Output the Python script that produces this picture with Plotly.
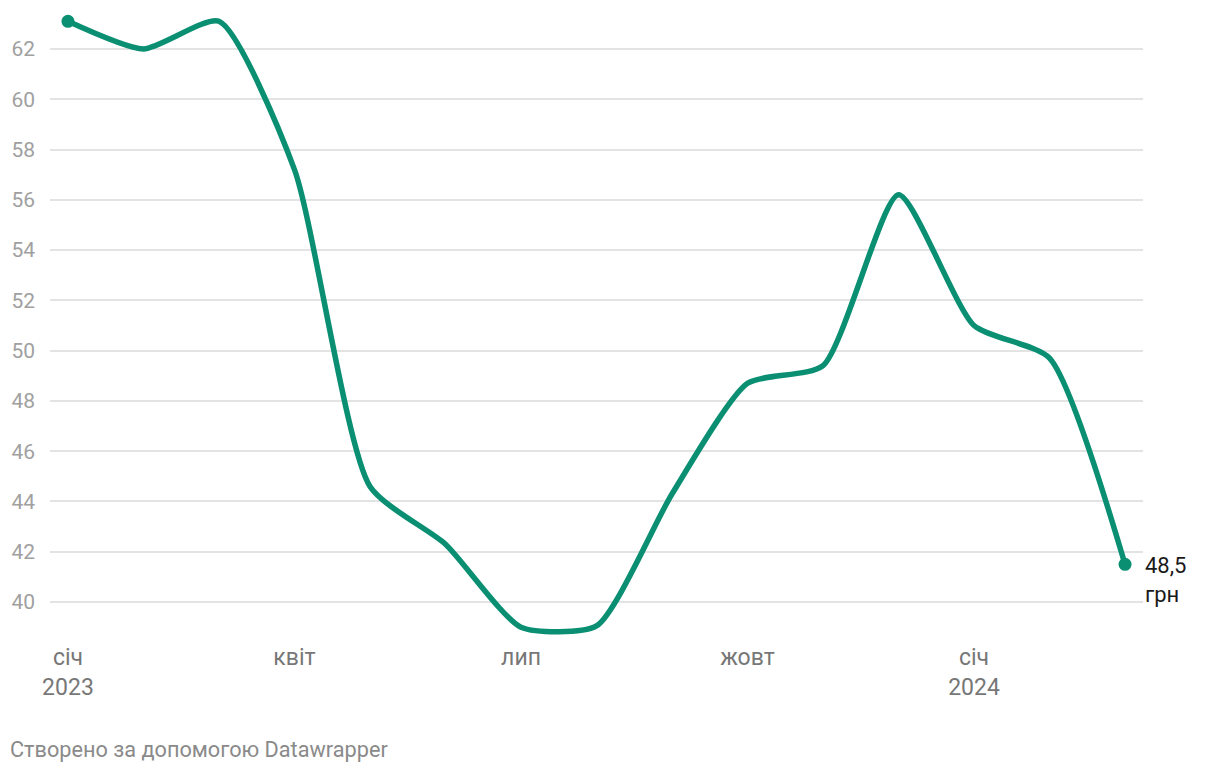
import plotly.graph_objects as go

months = ["2023-01", "2023-02", "2023-03", "2023-04", "2023-05", "2023-06", "2023-07",
          "2023-08", "2023-09", "2023-10", "2023-11", "2023-12", "2024-01", "2024-02", "2024-03"]
prices = [63.1, 62.0, 63.1, 57.2, 44.6, 42.3, 39.0, 39.05, 44.3, 48.7, 49.4, 56.2, 51.0, 49.7, 41.5]

tick_positions = [0, 3, 6, 9, 12]
tick_labels = ["січ<br>2023", "квіт", "лип", "жовт", "січ<br>2024"]
y_ticks = [40, 42, 44, 46, 48, 50, 52, 54, 56, 58, 60, 62]
end_label = "48,5<br>грн"

color = "#0a8f72"
x_idx = list(range(len(months)))

fig = go.Figure()
fig.add_trace(go.Scatter(
    x=x_idx, y=prices, mode="lines",
    line=dict(color=color, width=5.5, shape="spline", smoothing=0.6),
    hoverinfo="skip", showlegend=False,
))
fig.add_trace(go.Scatter(
    x=[x_idx[0], x_idx[-1]], y=[prices[0], prices[-1]], mode="markers",
    marker=dict(color=color, size=13),
    hoverinfo="skip", showlegend=False,
))

fig.add_annotation(
    x=x_idx[-1], y=prices[-1], xref="x", yref="y", text=end_label,
    showarrow=False, xanchor="left", yanchor="middle", align="left",
    xshift=18, yshift=-16,
    font=dict(family="Roboto", size=22, color="#1a1a1a"),
)

fig.add_annotation(
    x=0, y=0, xref="paper", yref="paper", xanchor="left", yanchor="bottom",
    text="Створено за допомогою Datawrapper", showarrow=False,
    xshift=-42, yshift=-124,
    font=dict(family="Roboto", size=21.7, color="#8a8a8a"),
)

fig.update_layout(
    width=1220, height=774,
    margin=dict(l=50, r=77, t=10, b=134),
    paper_bgcolor="white", plot_bgcolor="white",
    font=dict(family="Roboto"),
    xaxis=dict(
        range=[-0.238, 14.238], tickvals=tick_positions, ticktext=tick_labels,
        showgrid=False, zeroline=False, showline=False, ticks="",
        tickfont=dict(family="Roboto", size=23, color="#777777"),
        ticklabelstandoff=1,
    ),
    yaxis=dict(
        range=[38.49, 63.55], tickvals=y_ticks,
        showgrid=True, gridcolor="#e3e3e3", gridwidth=2,
        zeroline=False, showline=False, ticks="",
        tickfont=dict(family="Roboto", size=21, color="#a0a0a0"),
        ticklabelstandoff=14,
    ),
)

fig.write_html("out.html")
